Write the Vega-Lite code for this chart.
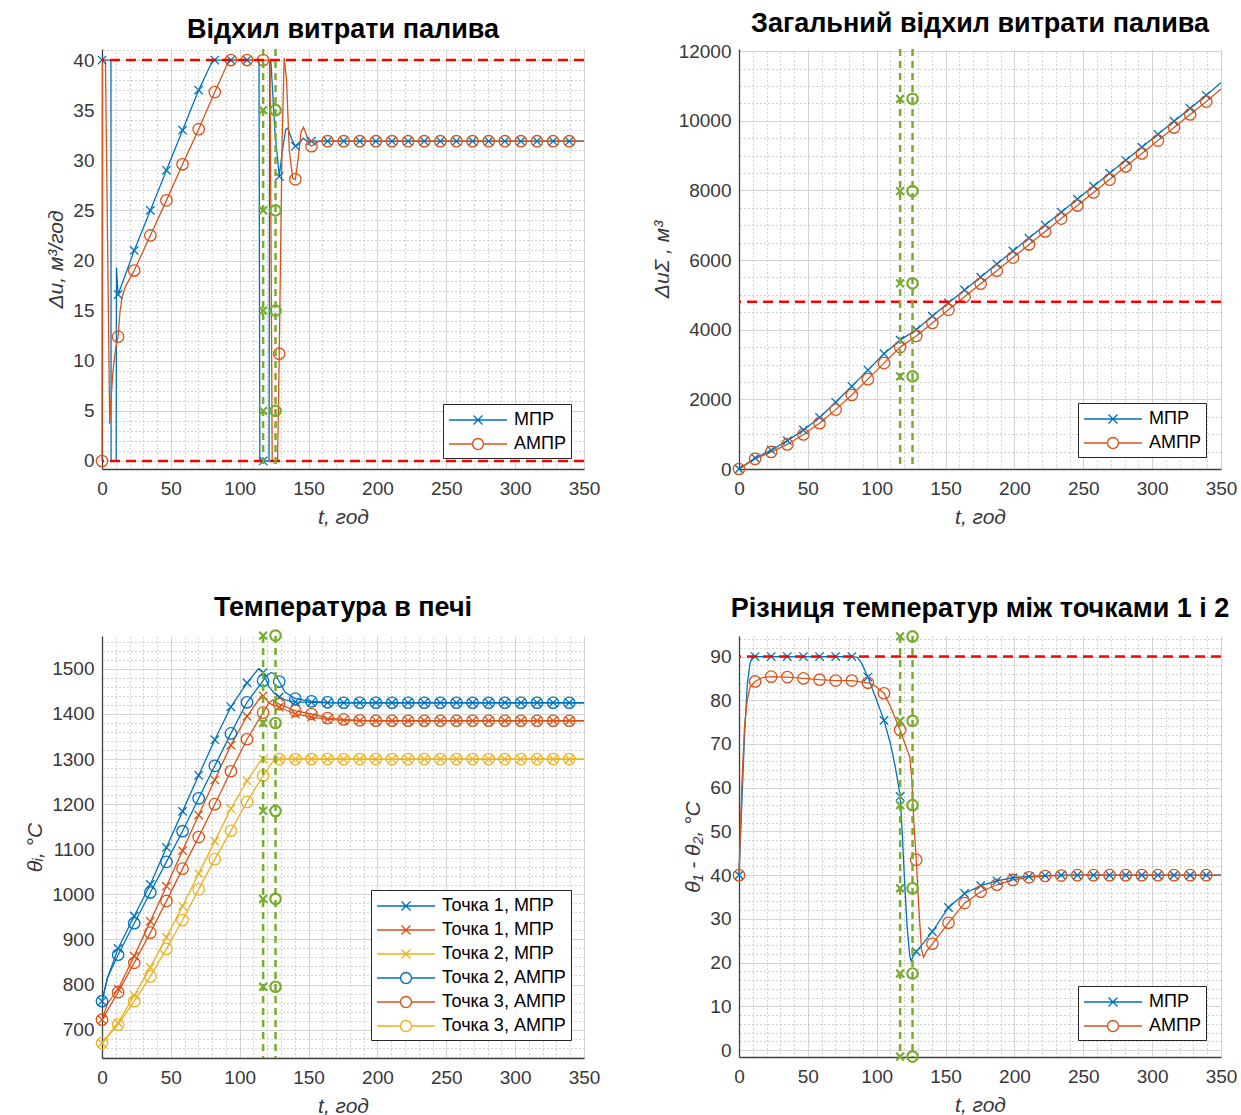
{
"$schema":"https://vega.github.io/schema/vega-lite/v6.json",
"padding":{"left":24,"top":10,"right":2,"bottom":2},
"resolve":{"scale":{"color":"independent"},"legend":{"color":"independent"}},
"config":{
 "view":{"stroke":null},
 "font":"Liberation Sans",
 "title":{"font":"Liberation Sans","fontSize":27,"fontWeight":"bold","color":"#000000","anchor":"middle","offset":4},
 "axis":{"labelFont":"Liberation Sans","labelFontSize":19,"labelColor":"#383838","titleFont":"Liberation Sans","titleFontSize":21,"titleFontStyle":"italic","titleFontWeight":"normal","titleColor":"#383838","domainColor":"#404040","domainWidth":1.3,"ticks":false,"gridColor":"#d4d4d4","gridWidth":1,"labelPadding":8},
 "axisX":{"labelPadding":10,"titlePadding":8},
 "axisY":{"titlePadding":6},
 "legend":{"labelFont":"Liberation Sans","labelFontSize":18,"labelColor":"#000000"}
},
"datasets":{
"p1":[
{"t":0,"v":40,"s":"МПР","m":1},{"t":6.5,"v":40,"s":"МПР"},{"t":6.6,"v":0,"s":"МПР"},{"t":10.3,"v":0,"s":"МПР"},{"t":10.5,"v":19.3,"s":"МПР"},{"t":11.7,"v":16.6,"s":"МПР","m":1},{"t":23.4,"v":21,"s":"МПР","m":1},{"t":35.1,"v":25,"s":"МПР","m":1},{"t":46.8,"v":29,"s":"МПР","m":1},{"t":58.5,"v":33,"s":"МПР","m":1},{"t":70.2,"v":37,"s":"МПР","m":1},{"t":80.5,"v":40,"s":"МПР"},{"t":81.9,"v":40,"s":"МПР","m":1},{"t":93.6,"v":40,"s":"МПР","m":1},{"t":105.3,"v":40,"s":"МПР","m":1},{"t":114,"v":40,"s":"МПР"},{"t":114.6,"v":0,"s":"МПР"},{"t":117,"v":0,"s":"МПР","m":1},{"t":121.3,"v":0,"s":"МПР"},{"t":121.8,"v":40,"s":"МПР"},{"t":122.6,"v":40,"s":"МПР"},{"t":125.5,"v":33,"s":"МПР"},{"t":128.7,"v":28.4,"s":"МПР","m":1},{"t":131,"v":31,"s":"МПР"},{"t":133.5,"v":33.1,"s":"МПР"},{"t":135,"v":33.2,"s":"МПР"},{"t":137.5,"v":32.2,"s":"МПР"},{"t":140.4,"v":31.4,"s":"МПР","m":1},{"t":143,"v":31.6,"s":"МПР"},{"t":146,"v":32.2,"s":"МПР"},{"t":149,"v":31.9,"s":"МПР"},{"t":152.1,"v":31.9,"s":"МПР","m":1},
{"t":163.8,"v":31.9,"s":"МПР","m":1},{"t":175.5,"v":31.9,"s":"МПР","m":1},{"t":187.2,"v":31.9,"s":"МПР","m":1},{"t":198.9,"v":31.9,"s":"МПР","m":1},{"t":210.6,"v":31.9,"s":"МПР","m":1},{"t":222.3,"v":31.9,"s":"МПР","m":1},{"t":234,"v":31.9,"s":"МПР","m":1},{"t":245.7,"v":31.9,"s":"МПР","m":1},{"t":257.4,"v":31.9,"s":"МПР","m":1},{"t":269.1,"v":31.9,"s":"МПР","m":1},{"t":280.8,"v":31.9,"s":"МПР","m":1},{"t":292.5,"v":31.9,"s":"МПР","m":1},{"t":304.2,"v":31.9,"s":"МПР","m":1},{"t":315.9,"v":31.9,"s":"МПР","m":1},{"t":327.6,"v":31.9,"s":"МПР","m":1},{"t":339.3,"v":31.9,"s":"МПР","m":1},{"t":350,"v":31.9,"s":"МПР"},
{"t":0,"v":0,"s":"АМПР","m":1},{"t":0.3,"v":40,"s":"АМПР"},{"t":2.5,"v":40,"s":"АМПР"},{"t":5.6,"v":3.7,"s":"АМПР"},{"t":6.5,"v":6,"s":"АМПР"},{"t":8,"v":9,"s":"АМПР"},{"t":10,"v":11.3,"s":"АМПР"},{"t":11.7,"v":12.4,"s":"АМПР","m":1},{"t":13,"v":14.8,"s":"АМПР"},{"t":14.5,"v":16.3,"s":"АМПР"},{"t":17,"v":17.4,"s":"АМПР"},{"t":23.4,"v":19,"s":"АМПР","m":1},{"t":35.1,"v":22.5,"s":"АМПР","m":1},{"t":46.8,"v":26,"s":"АМПР","m":1},{"t":58.5,"v":29.6,"s":"АМПР","m":1},{"t":70.2,"v":33.1,"s":"АМПР","m":1},{"t":81.9,"v":36.8,"s":"АМПР","m":1},{"t":91,"v":39.6,"s":"АМПР"},{"t":93.6,"v":40,"s":"АМПР","m":1},{"t":105.3,"v":40,"s":"АМПР","m":1},{"t":117,"v":40,"s":"АМПР","m":1},{"t":122,"v":40,"s":"АМПР"},{"t":123.6,"v":0,"s":"АМПР"},{"t":127.5,"v":0,"s":"АМПР"},{"t":128.7,"v":10.7,"s":"АМПР","m":1},{"t":130.8,"v":32,"s":"АМПР"},{"t":132.3,"v":40.2,"s":"АМПР"},{"t":134,"v":38,"s":"АМПР"},{"t":136,"v":31,"s":"АМПР"},{"t":138.5,"v":28.2,"s":"АМПР"},{"t":140.4,"v":28.1,"s":"АМПР","m":1},{"t":142.5,"v":30.2,"s":"АМПР"},{"t":144.5,"v":32.8,"s":"АМПР"},{"t":146.3,"v":33.3,"s":"АМПР"},{"t":148.3,"v":32.6,"s":"АМПР"},{"t":150.5,"v":31.6,"s":"АМПР"},{"t":152.1,"v":31.4,"s":"АМПР","m":1},{"t":155,"v":31.7,"s":"АМПР"},{"t":158,"v":31.9,"s":"АМПР"},
{"t":163.8,"v":31.9,"s":"АМПР","m":1},{"t":175.5,"v":31.9,"s":"АМПР","m":1},{"t":187.2,"v":31.9,"s":"АМПР","m":1},{"t":198.9,"v":31.9,"s":"АМПР","m":1},{"t":210.6,"v":31.9,"s":"АМПР","m":1},{"t":222.3,"v":31.9,"s":"АМПР","m":1},{"t":234,"v":31.9,"s":"АМПР","m":1},{"t":245.7,"v":31.9,"s":"АМПР","m":1},{"t":257.4,"v":31.9,"s":"АМПР","m":1},{"t":269.1,"v":31.9,"s":"АМПР","m":1},{"t":280.8,"v":31.9,"s":"АМПР","m":1},{"t":292.5,"v":31.9,"s":"АМПР","m":1},{"t":304.2,"v":31.9,"s":"АМПР","m":1},{"t":315.9,"v":31.9,"s":"АМПР","m":1},{"t":327.6,"v":31.9,"s":"АМПР","m":1},{"t":339.3,"v":31.9,"s":"АМПР","m":1},{"t":350,"v":31.9,"s":"АМПР"}
],
"p2":[
{"t":0,"v":0,"s":"МПР","m":1},{"t":11.7,"v":320,"s":"МПР","m":1},{"t":23.4,"v":540,"s":"МПР","m":1},{"t":35.1,"v":815,"s":"МПР","m":1},{"t":46.8,"v":1120,"s":"МПР","m":1},{"t":58.5,"v":1480,"s":"МПР","m":1},{"t":70.2,"v":1915,"s":"МПР","m":1},{"t":81.9,"v":2375,"s":"МПР","m":1},{"t":93.6,"v":2840,"s":"МПР","m":1},{"t":105.3,"v":3310,"s":"МПР","m":1},{"t":117,"v":3700,"s":"МПР","m":1},{"t":128.7,"v":4000,"s":"МПР","m":1},{"t":140.4,"v":4390,"s":"МПР","m":1},{"t":152.1,"v":4770,"s":"МПР","m":1},{"t":163.8,"v":5140,"s":"МПР","m":1},{"t":175.5,"v":5510,"s":"МПР","m":1},{"t":187.2,"v":5885,"s":"МПР","m":1},{"t":198.9,"v":6260,"s":"МПР","m":1},{"t":210.6,"v":6630,"s":"МПР","m":1},{"t":222.3,"v":7005,"s":"МПР","m":1},{"t":234,"v":7375,"s":"МПР","m":1},{"t":245.7,"v":7750,"s":"МПР","m":1},{"t":257.4,"v":8120,"s":"МПР","m":1},{"t":269.1,"v":8495,"s":"МПР","m":1},{"t":280.8,"v":8865,"s":"МПР","m":1},{"t":292.5,"v":9240,"s":"МПР","m":1},{"t":304.2,"v":9610,"s":"МПР","m":1},{"t":315.9,"v":9985,"s":"МПР","m":1},{"t":327.6,"v":10355,"s":"МПР","m":1},{"t":339.3,"v":10730,"s":"МПР","m":1},{"t":350,"v":11090,"s":"МПР"},
{"t":0,"v":0,"s":"АМПР","m":1},{"t":11.7,"v":290,"s":"АМПР","m":1},{"t":23.4,"v":490,"s":"АМПР","m":1},{"t":35.1,"v":705,"s":"АМПР","m":1},{"t":46.8,"v":990,"s":"АМПР","m":1},{"t":58.5,"v":1315,"s":"АМПР","m":1},{"t":70.2,"v":1705,"s":"АМПР","m":1},{"t":81.9,"v":2125,"s":"АМПР","m":1},{"t":93.6,"v":2580,"s":"АМПР","m":1},{"t":105.3,"v":3040,"s":"АМПР","m":1},{"t":117,"v":3500,"s":"АМПР","m":1},{"t":128.7,"v":3820,"s":"АМПР","m":1},{"t":140.4,"v":4195,"s":"АМПР","m":1},{"t":152.1,"v":4570,"s":"АМПР","m":1},{"t":163.8,"v":4945,"s":"АМПР","m":1},{"t":175.5,"v":5320,"s":"АМПР","m":1},{"t":187.2,"v":5695,"s":"АМПР","m":1},{"t":198.9,"v":6070,"s":"АМПР","m":1},{"t":210.6,"v":6445,"s":"АМПР","m":1},{"t":222.3,"v":6820,"s":"АМПР","m":1},{"t":234,"v":7190,"s":"АМПР","m":1},{"t":245.7,"v":7565,"s":"АМПР","m":1},{"t":257.4,"v":7940,"s":"АМПР","m":1},{"t":269.1,"v":8310,"s":"АМПР","m":1},{"t":280.8,"v":8685,"s":"АМПР","m":1},{"t":292.5,"v":9060,"s":"АМПР","m":1},{"t":304.2,"v":9430,"s":"АМПР","m":1},{"t":315.9,"v":9805,"s":"АМПР","m":1},{"t":327.6,"v":10180,"s":"АМПР","m":1},{"t":339.3,"v":10550,"s":"АМПР","m":1},{"t":350,"v":10910,"s":"АМПР"}
],
"p3":[
{"t":0,"v":763,"s":"Точка 1, МПР","m":1},{"t":4,"v":815,"s":"Точка 1, МПР"},{"t":11.7,"v":880,"s":"Точка 1, МПР","m":1},{"t":23.4,"v":952,"s":"Точка 1, МПР","m":1},{"t":35.1,"v":1022,"s":"Точка 1, МПР","m":1},{"t":46.8,"v":1104,"s":"Точка 1, МПР","m":1},{"t":58.5,"v":1184,"s":"Точка 1, МПР","m":1},{"t":70.2,"v":1264,"s":"Точка 1, МПР","m":1},{"t":81.9,"v":1343,"s":"Точка 1, МПР","m":1},{"t":93.6,"v":1416,"s":"Точка 1, МПР","m":1},{"t":105.3,"v":1469,"s":"Точка 1, МПР","m":1},{"t":113.5,"v":1500,"s":"Точка 1, МПР"},{"t":117,"v":1492,"s":"Точка 1, МПР","m":1},{"t":121,"v":1462,"s":"Точка 1, МПР"},{"t":125,"v":1446,"s":"Точка 1, МПР"},{"t":128.7,"v":1438,"s":"Точка 1, МПР","m":1},{"t":134,"v":1430,"s":"Точка 1, МПР"},{"t":140.4,"v":1427,"s":"Точка 1, МПР","m":1},{"t":152.1,"v":1426,"s":"Точка 1, МПР","m":1},{"t":163.8,"v":1425,"s":"Точка 1, МПР","m":1},{"t":175.5,"v":1425,"s":"Точка 1, МПР","m":1},{"t":187.2,"v":1425,"s":"Точка 1, МПР","m":1},{"t":198.9,"v":1425,"s":"Точка 1, МПР","m":1},{"t":210.6,"v":1425,"s":"Точка 1, МПР","m":1},{"t":222.3,"v":1425,"s":"Точка 1, МПР","m":1},{"t":234,"v":1425,"s":"Точка 1, МПР","m":1},{"t":245.7,"v":1425,"s":"Точка 1, МПР","m":1},{"t":257.4,"v":1425,"s":"Точка 1, МПР","m":1},{"t":269.1,"v":1425,"s":"Точка 1, МПР","m":1},{"t":280.8,"v":1425,"s":"Точка 1, МПР","m":1},{"t":292.5,"v":1425,"s":"Точка 1, МПР","m":1},{"t":304.2,"v":1425,"s":"Точка 1, МПР","m":1},{"t":315.9,"v":1425,"s":"Точка 1, МПР","m":1},{"t":327.6,"v":1425,"s":"Точка 1, МПР","m":1},{"t":339.3,"v":1425,"s":"Точка 1, МПР","m":1},{"t":350,"v":1425,"s":"Точка 1, МПР"},
{"t":0,"v":722,"s":"Точка 1, МПР ","m":1},{"t":4,"v":758,"s":"Точка 1, МПР "},{"t":11.7,"v":790,"s":"Точка 1, МПР ","m":1},{"t":23.4,"v":863,"s":"Точка 1, МПР ","m":1},{"t":35.1,"v":940,"s":"Точка 1, МПР ","m":1},{"t":46.8,"v":1018,"s":"Точка 1, МПР ","m":1},{"t":58.5,"v":1097,"s":"Точка 1, МПР ","m":1},{"t":70.2,"v":1176,"s":"Точка 1, МПР ","m":1},{"t":81.9,"v":1254,"s":"Точка 1, МПР ","m":1},{"t":93.6,"v":1331,"s":"Точка 1, МПР ","m":1},{"t":105.3,"v":1395,"s":"Точка 1, МПР ","m":1},{"t":116,"v":1441,"s":"Точка 1, МПР "},{"t":117,"v":1440,"s":"Точка 1, МПР ","m":1},{"t":122,"v":1423,"s":"Точка 1, МПР "},{"t":128.7,"v":1415,"s":"Точка 1, МПР ","m":1},{"t":140.4,"v":1400,"s":"Точка 1, МПР ","m":1},{"t":152.1,"v":1393,"s":"Точка 1, МПР ","m":1},{"t":163.8,"v":1388,"s":"Точка 1, МПР ","m":1},{"t":175.5,"v":1386,"s":"Точка 1, МПР ","m":1},{"t":187.2,"v":1385,"s":"Точка 1, МПР ","m":1},{"t":198.9,"v":1385,"s":"Точка 1, МПР ","m":1},{"t":210.6,"v":1385,"s":"Точка 1, МПР ","m":1},{"t":222.3,"v":1385,"s":"Точка 1, МПР ","m":1},{"t":234,"v":1385,"s":"Точка 1, МПР ","m":1},{"t":245.7,"v":1385,"s":"Точка 1, МПР ","m":1},{"t":257.4,"v":1385,"s":"Точка 1, МПР ","m":1},{"t":269.1,"v":1385,"s":"Точка 1, МПР ","m":1},{"t":280.8,"v":1385,"s":"Точка 1, МПР ","m":1},{"t":292.5,"v":1385,"s":"Точка 1, МПР ","m":1},{"t":304.2,"v":1385,"s":"Точка 1, МПР ","m":1},{"t":315.9,"v":1385,"s":"Точка 1, МПР ","m":1},{"t":327.6,"v":1385,"s":"Точка 1, МПР ","m":1},{"t":339.3,"v":1385,"s":"Точка 1, МПР ","m":1},{"t":350,"v":1385,"s":"Точка 1, МПР "},
{"t":0,"v":670,"s":"Точка 2, МПР","m":1},{"t":11.7,"v":715,"s":"Точка 2, МПР","m":1},{"t":23.4,"v":776,"s":"Точка 2, МПР","m":1},{"t":35.1,"v":838,"s":"Точка 2, МПР","m":1},{"t":46.8,"v":905,"s":"Точка 2, МПР","m":1},{"t":58.5,"v":974,"s":"Точка 2, МПР","m":1},{"t":70.2,"v":1046,"s":"Точка 2, МПР","m":1},{"t":81.9,"v":1118,"s":"Точка 2, МПР","m":1},{"t":93.6,"v":1190,"s":"Точка 2, МПР","m":1},{"t":105.3,"v":1252,"s":"Точка 2, МПР","m":1},{"t":116,"v":1300,"s":"Точка 2, МПР"},{"t":117,"v":1300,"s":"Точка 2, МПР","m":1},{"t":128.7,"v":1300,"s":"Точка 2, МПР","m":1},{"t":140.4,"v":1300,"s":"Точка 2, МПР","m":1},{"t":152.1,"v":1300,"s":"Точка 2, МПР","m":1},{"t":163.8,"v":1300,"s":"Точка 2, МПР","m":1},{"t":175.5,"v":1300,"s":"Точка 2, МПР","m":1},{"t":187.2,"v":1300,"s":"Точка 2, МПР","m":1},{"t":198.9,"v":1300,"s":"Точка 2, МПР","m":1},{"t":210.6,"v":1300,"s":"Точка 2, МПР","m":1},{"t":222.3,"v":1300,"s":"Точка 2, МПР","m":1},{"t":234,"v":1300,"s":"Точка 2, МПР","m":1},{"t":245.7,"v":1300,"s":"Точка 2, МПР","m":1},{"t":257.4,"v":1300,"s":"Точка 2, МПР","m":1},{"t":269.1,"v":1300,"s":"Точка 2, МПР","m":1},{"t":280.8,"v":1300,"s":"Точка 2, МПР","m":1},{"t":292.5,"v":1300,"s":"Точка 2, МПР","m":1},{"t":304.2,"v":1300,"s":"Точка 2, МПР","m":1},{"t":315.9,"v":1300,"s":"Точка 2, МПР","m":1},{"t":327.6,"v":1300,"s":"Точка 2, МПР","m":1},{"t":339.3,"v":1300,"s":"Точка 2, МПР","m":1},{"t":350,"v":1300,"s":"Точка 2, МПР"},
{"t":0,"v":763,"s":"Точка 2, АМПР","m":1},{"t":4,"v":815,"s":"Точка 2, АМПР"},{"t":11.7,"v":866,"s":"Точка 2, АМПР","m":1},{"t":23.4,"v":936,"s":"Точка 2, АМПР","m":1},{"t":35.1,"v":1004,"s":"Точка 2, АМПР","m":1},{"t":46.8,"v":1072,"s":"Точка 2, АМПР","m":1},{"t":58.5,"v":1140,"s":"Точка 2, АМПР","m":1},{"t":70.2,"v":1213,"s":"Точка 2, АМПР","m":1},{"t":81.9,"v":1285,"s":"Точка 2, АМПР","m":1},{"t":93.6,"v":1357,"s":"Точка 2, АМПР","m":1},{"t":105.3,"v":1426,"s":"Точка 2, АМПР","m":1},{"t":117,"v":1474,"s":"Точка 2, АМПР","m":1},{"t":120,"v":1486,"s":"Точка 2, АМПР"},{"t":123,"v":1492,"s":"Точка 2, АМПР"},{"t":126,"v":1487,"s":"Точка 2, АМПР"},{"t":128.7,"v":1472,"s":"Точка 2, АМПР","m":1},{"t":133,"v":1448,"s":"Точка 2, АМПР"},{"t":140.4,"v":1434,"s":"Точка 2, АМПР","m":1},{"t":152.1,"v":1428,"s":"Точка 2, АМПР","m":1},{"t":163.8,"v":1426,"s":"Точка 2, АМПР","m":1},{"t":175.5,"v":1425,"s":"Точка 2, АМПР","m":1},{"t":187.2,"v":1425,"s":"Точка 2, АМПР","m":1},{"t":198.9,"v":1425,"s":"Точка 2, АМПР","m":1},{"t":210.6,"v":1425,"s":"Точка 2, АМПР","m":1},{"t":222.3,"v":1425,"s":"Точка 2, АМПР","m":1},{"t":234,"v":1425,"s":"Точка 2, АМПР","m":1},{"t":245.7,"v":1425,"s":"Точка 2, АМПР","m":1},{"t":257.4,"v":1425,"s":"Точка 2, АМПР","m":1},{"t":269.1,"v":1425,"s":"Точка 2, АМПР","m":1},{"t":280.8,"v":1425,"s":"Точка 2, АМПР","m":1},{"t":292.5,"v":1425,"s":"Точка 2, АМПР","m":1},{"t":304.2,"v":1425,"s":"Точка 2, АМПР","m":1},{"t":315.9,"v":1425,"s":"Точка 2, АМПР","m":1},{"t":327.6,"v":1425,"s":"Точка 2, АМПР","m":1},{"t":339.3,"v":1425,"s":"Точка 2, АМПР","m":1},{"t":350,"v":1425,"s":"Точка 2, АМПР"},
{"t":0,"v":722,"s":"Точка 3, АМПР","m":1},{"t":11.7,"v":783,"s":"Точка 3, АМПР","m":1},{"t":23.4,"v":848,"s":"Точка 3, АМПР","m":1},{"t":35.1,"v":915,"s":"Точка 3, АМПР","m":1},{"t":46.8,"v":985,"s":"Точка 3, АМПР","m":1},{"t":58.5,"v":1057,"s":"Точка 3, АМПР","m":1},{"t":70.2,"v":1127,"s":"Точка 3, АМПР","m":1},{"t":81.9,"v":1200,"s":"Точка 3, АМПР","m":1},{"t":93.6,"v":1273,"s":"Точка 3, АМПР","m":1},{"t":105.3,"v":1344,"s":"Точка 3, АМПР","m":1},{"t":117,"v":1403,"s":"Точка 3, АМПР","m":1},{"t":121,"v":1424,"s":"Точка 3, АМПР"},{"t":124,"v":1431,"s":"Точка 3, АМПР"},{"t":128.7,"v":1422,"s":"Точка 3, АМПР","m":1},{"t":140.4,"v":1407,"s":"Точка 3, АМПР","m":1},{"t":152.1,"v":1400,"s":"Точка 3, АМПР","m":1},{"t":163.8,"v":1391,"s":"Точка 3, АМПР","m":1},{"t":175.5,"v":1388,"s":"Точка 3, АМПР","m":1},{"t":187.2,"v":1386,"s":"Точка 3, АМПР","m":1},{"t":198.9,"v":1385,"s":"Точка 3, АМПР","m":1},{"t":210.6,"v":1385,"s":"Точка 3, АМПР","m":1},{"t":222.3,"v":1385,"s":"Точка 3, АМПР","m":1},{"t":234,"v":1385,"s":"Точка 3, АМПР","m":1},{"t":245.7,"v":1385,"s":"Точка 3, АМПР","m":1},{"t":257.4,"v":1385,"s":"Точка 3, АМПР","m":1},{"t":269.1,"v":1385,"s":"Точка 3, АМПР","m":1},{"t":280.8,"v":1385,"s":"Точка 3, АМПР","m":1},{"t":292.5,"v":1385,"s":"Точка 3, АМПР","m":1},{"t":304.2,"v":1385,"s":"Точка 3, АМПР","m":1},{"t":315.9,"v":1385,"s":"Точка 3, АМПР","m":1},{"t":327.6,"v":1385,"s":"Точка 3, АМПР","m":1},{"t":339.3,"v":1385,"s":"Точка 3, АМПР","m":1},{"t":350,"v":1385,"s":"Точка 3, АМПР"},
{"t":0,"v":670,"s":"Точка 3, АМПР ","m":1},{"t":11.7,"v":711,"s":"Точка 3, АМПР ","m":1},{"t":23.4,"v":763,"s":"Точка 3, АМПР ","m":1},{"t":35.1,"v":818,"s":"Точка 3, АМПР ","m":1},{"t":46.8,"v":879,"s":"Точка 3, АМПР ","m":1},{"t":58.5,"v":943,"s":"Точка 3, АМПР ","m":1},{"t":70.2,"v":1011,"s":"Точка 3, АМПР ","m":1},{"t":81.9,"v":1078,"s":"Точка 3, АМПР ","m":1},{"t":93.6,"v":1141,"s":"Точка 3, АМПР ","m":1},{"t":105.3,"v":1205,"s":"Точка 3, АМПР ","m":1},{"t":117,"v":1263,"s":"Точка 3, АМПР ","m":1},{"t":125,"v":1299,"s":"Точка 3, АМПР "},{"t":128.7,"v":1300,"s":"Точка 3, АМПР ","m":1},{"t":140.4,"v":1300,"s":"Точка 3, АМПР ","m":1},{"t":152.1,"v":1300,"s":"Точка 3, АМПР ","m":1},{"t":163.8,"v":1300,"s":"Точка 3, АМПР ","m":1},{"t":175.5,"v":1300,"s":"Точка 3, АМПР ","m":1},{"t":187.2,"v":1300,"s":"Точка 3, АМПР ","m":1},{"t":198.9,"v":1300,"s":"Точка 3, АМПР ","m":1},{"t":210.6,"v":1300,"s":"Точка 3, АМПР ","m":1},{"t":222.3,"v":1300,"s":"Точка 3, АМПР ","m":1},{"t":234,"v":1300,"s":"Точка 3, АМПР ","m":1},{"t":245.7,"v":1300,"s":"Точка 3, АМПР ","m":1},{"t":257.4,"v":1300,"s":"Точка 3, АМПР ","m":1},{"t":269.1,"v":1300,"s":"Точка 3, АМПР ","m":1},{"t":280.8,"v":1300,"s":"Точка 3, АМПР ","m":1},{"t":292.5,"v":1300,"s":"Точка 3, АМПР ","m":1},{"t":304.2,"v":1300,"s":"Точка 3, АМПР ","m":1},{"t":315.9,"v":1300,"s":"Точка 3, АМПР ","m":1},{"t":327.6,"v":1300,"s":"Точка 3, АМПР ","m":1},{"t":339.3,"v":1300,"s":"Точка 3, АМПР ","m":1},{"t":350,"v":1300,"s":"Точка 3, АМПР "}
],
"p4":[
{"t":0,"v":40,"s":"МПР","m":1},{"t":2,"v":56,"s":"МПР"},{"t":4,"v":72,"s":"МПР"},{"t":6,"v":83.5,"s":"МПР"},{"t":8,"v":88.5,"s":"МПР"},{"t":10,"v":90,"s":"МПР"},{"t":11.7,"v":90,"s":"МПР","m":1},{"t":23.4,"v":90,"s":"МПР","m":1},{"t":35.1,"v":90,"s":"МПР","m":1},{"t":46.8,"v":90,"s":"МПР","m":1},{"t":58.5,"v":90,"s":"МПР","m":1},{"t":70.2,"v":90,"s":"МПР","m":1},{"t":81.9,"v":90,"s":"МПР","m":1},{"t":86,"v":89.8,"s":"МПР"},{"t":89,"v":88.5,"s":"МПР"},{"t":93.6,"v":85.3,"s":"МПР","m":1},{"t":99,"v":80.8,"s":"МПР"},{"t":105.3,"v":75.4,"s":"МПР","m":1},{"t":110,"v":70,"s":"МПР"},{"t":113,"v":65.5,"s":"МПР"},{"t":115,"v":62,"s":"МПР"},{"t":117,"v":58,"s":"МПР","m":1},{"t":118.5,"v":50,"s":"МПР"},{"t":120,"v":40,"s":"МПР"},{"t":122,"v":28.5,"s":"МПР"},{"t":124,"v":21.5,"s":"МПР"},{"t":125,"v":20.3,"s":"МПР"},{"t":126.5,"v":21.5,"s":"МПР"},{"t":128.7,"v":22.5,"s":"МПР","m":1},{"t":134,"v":24.5,"s":"МПР"},{"t":140.4,"v":27.1,"s":"МПР","m":1},{"t":152.1,"v":32.6,"s":"МПР","m":1},{"t":163.8,"v":35.8,"s":"МПР","m":1},{"t":175.5,"v":37.6,"s":"МПР","m":1},{"t":187.2,"v":38.7,"s":"МПР","m":1},{"t":198.9,"v":39.4,"s":"МПР","m":1},{"t":210.6,"v":39.7,"s":"МПР","m":1},{"t":222.3,"v":39.9,"s":"МПР","m":1},{"t":234,"v":40,"s":"МПР","m":1},{"t":245.7,"v":40,"s":"МПР","m":1},{"t":257.4,"v":40,"s":"МПР","m":1},{"t":269.1,"v":40,"s":"МПР","m":1},{"t":280.8,"v":40,"s":"МПР","m":1},{"t":292.5,"v":40,"s":"МПР","m":1},{"t":304.2,"v":40,"s":"МПР","m":1},{"t":315.9,"v":40,"s":"МПР","m":1},{"t":327.6,"v":40,"s":"МПР","m":1},{"t":339.3,"v":40,"s":"МПР","m":1},{"t":350,"v":40,"s":"МПР"},
{"t":0,"v":40,"s":"АМПР","m":1},{"t":2,"v":60,"s":"АМПР"},{"t":4,"v":74,"s":"АМПР"},{"t":6,"v":80,"s":"АМПР"},{"t":8,"v":83,"s":"АМПР"},{"t":11.7,"v":84.3,"s":"АМПР","m":1},{"t":17,"v":85.2,"s":"АМПР"},{"t":23.4,"v":85.4,"s":"АМПР","m":1},{"t":35.1,"v":85.3,"s":"АМПР","m":1},{"t":46.8,"v":85,"s":"АМПР","m":1},{"t":58.5,"v":84.7,"s":"АМПР","m":1},{"t":70.2,"v":84.5,"s":"АМПР","m":1},{"t":81.9,"v":84.5,"s":"АМПР","m":1},{"t":93.6,"v":84,"s":"АМПР","m":1},{"t":98,"v":83.5,"s":"АМПР"},{"t":105.3,"v":81.6,"s":"АМПР","m":1},{"t":110,"v":78.5,"s":"АМПР"},{"t":114,"v":75.5,"s":"АМПР"},{"t":117,"v":73.2,"s":"АМПР","m":1},{"t":120,"v":70.5,"s":"АМПР"},{"t":124,"v":67,"s":"АМПР"},{"t":125.5,"v":62,"s":"АМПР"},{"t":127,"v":52,"s":"АМПР"},{"t":128.7,"v":43.5,"s":"АМПР","m":1},{"t":130.5,"v":33,"s":"АМПР"},{"t":132.5,"v":23,"s":"АМПР"},{"t":134,"v":21.2,"s":"АМПР"},{"t":136,"v":22.5,"s":"АМПР"},{"t":140.4,"v":24.3,"s":"АМПР","m":1},{"t":152.1,"v":29.1,"s":"АМПР","m":1},{"t":163.8,"v":33.6,"s":"АМПР","m":1},{"t":175.5,"v":36.2,"s":"АМПР","m":1},{"t":187.2,"v":37.8,"s":"АМПР","m":1},{"t":198.9,"v":38.9,"s":"АМПР","m":1},{"t":210.6,"v":39.5,"s":"АМПР","m":1},{"t":222.3,"v":39.8,"s":"АМПР","m":1},{"t":234,"v":39.9,"s":"АМПР","m":1},{"t":245.7,"v":40,"s":"АМПР","m":1},{"t":257.4,"v":40,"s":"АМПР","m":1},{"t":269.1,"v":40,"s":"АМПР","m":1},{"t":280.8,"v":40,"s":"АМПР","m":1},{"t":292.5,"v":40,"s":"АМПР","m":1},{"t":304.2,"v":40,"s":"АМПР","m":1},{"t":315.9,"v":40,"s":"АМПР","m":1},{"t":327.6,"v":40,"s":"АМПР","m":1},{"t":339.3,"v":40,"s":"АМПР","m":1},{"t":350,"v":40,"s":"АМПР"}
],
"g1":[{"t":117,"v":5,"k":"x"},{"t":117,"v":15,"k":"x"},{"t":117,"v":25,"k":"x"},{"t":117,"v":35,"k":"x"},{"t":126,"v":5,"k":"o"},{"t":126,"v":15,"k":"o"},{"t":126,"v":25,"k":"o"},{"t":126,"v":35,"k":"o"}],
"g2":[{"t":117,"v":2660,"k":"x"},{"t":117,"v":5330,"k":"x"},{"t":117,"v":7980,"k":"x"},{"t":117,"v":10630,"k":"x"},{"t":126,"v":2660,"k":"o"},{"t":126,"v":5330,"k":"o"},{"t":126,"v":7980,"k":"o"},{"t":126,"v":10630,"k":"o"}],
"g3":[{"t":117,"v":795,"k":"x"},{"t":117,"v":990,"k":"x"},{"t":117,"v":1185,"k":"x"},{"t":117,"v":1380,"k":"x"},{"t":117,"v":1574,"k":"x"},{"t":126,"v":795,"k":"o"},{"t":126,"v":990,"k":"o"},{"t":126,"v":1185,"k":"o"},{"t":126,"v":1380,"k":"o"},{"t":126,"v":1574,"k":"o"}],
"g4":[{"t":117,"v":-1.5,"k":"x"},{"t":117,"v":17.5,"k":"x"},{"t":117,"v":37,"k":"x"},{"t":117,"v":56,"k":"x"},{"t":117,"v":75.3,"k":"x"},{"t":117,"v":94.6,"k":"x"},{"t":126,"v":-1.5,"k":"o"},{"t":126,"v":17.5,"k":"o"},{"t":126,"v":37,"k":"o"},{"t":126,"v":56,"k":"o"},{"t":126,"v":75.3,"k":"o"},{"t":126,"v":94.6,"k":"o"}],
"gl":[{"tg":117},{"tg":126}]
},
"columns":2,
"spacing":{"row":167,"column":155},
"bounds":"flush",
"concat":[
{"width":482,"height":420,"title":{"text":"Відхил витрати палива"},
 "resolve":{"axis":{"x":"independent","y":"independent"}},
 "layer":[
  {"data":{"values":[{}]},"mark":{"type":"point","opacity":0,"size":0},
   "encoding":{"x":{"datum":0,"type":"quantitative","scale":{"domain":[0,350],"nice":false,"zero":false},"axis":{"orient":"top","values":[10,20,30,40,60,70,80,90,110,120,130,140,160,170,180,190,210,220,230,240,260,270,280,290,310,320,330,340],"grid":true,"gridDash":[1,3],"gridColor":"#a8a8a8","labels":false,"ticks":false,"domain":false,"title":null,"minExtent":0,"maxExtent":0}},
   "y":{"datum":0,"type":"quantitative","scale":{"domain":[-0.8,41.1],"nice":false,"zero":false},"axis":{"orient":"right","values":[1,2,3,4,6,7,8,9,11,12,13,14,16,17,18,19,21,22,23,24,26,27,28,29,31,32,33,34,36,37,38,39,41],"grid":true,"gridDash":[1,3],"gridColor":"#a8a8a8","labels":false,"ticks":false,"domain":false,"title":null,"minExtent":0,"maxExtent":0}}}},
  {"data":{"name":"p1"},"mark":{"type":"line","strokeWidth":1.3},
   "encoding":{"x":{"field":"t","type":"quantitative","scale":{"domain":[0,350],"nice":false,"zero":false},"axis":{"values":[0,50,100,150,200,250,300,350],"title":"t, год","grid":true,"labelFlush":false}},
   "y":{"field":"v","type":"quantitative","scale":{"domain":[-0.8,41.1],"nice":false,"zero":false},"axis":{"values":[0,5,10,15,20,25,30,35,40],"title":"Δu, м³/год","grid":true}},
   "color":{"field":"s","type":"nominal","scale":{"domain":["МПР","АМПР"],"range":["#0072BD","#D95319"]},
    "legend":{"title":null,"orient":"none","legendX":341,"legendY":355,"symbolSize":400,"labelOffset":44,"rowPadding":4,"padding":5,"strokeColor":"#262626","fillColor":"#ffffff","symbolStrokeWidth":1.4,
     "encoding":{"symbols":{"shape":{"value":{"expr":"indexof(datum.value,'АМПР')>=0?'M-1,0L1.35,0M2.45,0L4.8,0M2.45,0L2.408,0.21L2.289,0.389L2.11,0.508L1.9,0.55L1.69,0.508L1.511,0.389L1.392,0.21L1.35,0L1.392,-0.21L1.511,-0.389L1.69,-0.508L1.9,-0.55L2.11,-0.508L2.289,-0.389L2.408,-0.21Z':'M-1,0L4.8,0M1.45,-0.45L2.35,0.45M1.45,0.45L2.35,-0.45'"}},"fill":{"value":"transparent"},"strokeWidth":{"value":1.4}}}}}}},
  {"data":{"name":"p1"},"transform":[{"filter":"datum.m == 1 && indexof(datum.s,'АМПР') < 0"}],"mark":{"type":"point","shape":"M-1,-1L1,1M-1,1L1,-1","filled":false,"size":70,"strokeWidth":1.3,"opacity":1},
   "encoding":{"x":{"field":"t","type":"quantitative","scale":{"domain":[0,350],"nice":false,"zero":false},"axis":null},"y":{"field":"v","type":"quantitative","scale":{"domain":[-0.8,41.1],"nice":false,"zero":false},"axis":null},"color":{"field":"s","type":"nominal","scale":{"domain":["МПР","АМПР"],"range":["#0072BD","#D95319"]},"legend":null}}},
  {"data":{"name":"p1"},"transform":[{"filter":"datum.m == 1 && indexof(datum.s,'АМПР') >= 0"}],"mark":{"type":"point","shape":"circle","filled":false,"size":130,"strokeWidth":1.3,"opacity":1},
   "encoding":{"x":{"field":"t","type":"quantitative","scale":{"domain":[0,350],"nice":false,"zero":false},"axis":null},"y":{"field":"v","type":"quantitative","scale":{"domain":[-0.8,41.1],"nice":false,"zero":false},"axis":null},"color":{"field":"s","type":"nominal","scale":{"domain":["МПР","АМПР"],"range":["#0072BD","#D95319"]},"legend":null}}},
  {"data":{"values":[{"lim":0},{"lim":40}]},"mark":{"type":"rule","color":"#FF0000","strokeWidth":2.5,"strokeDash":[10,6]},
   "encoding":{"y":{"field":"lim","type":"quantitative","scale":{"domain":[-0.8,41.1],"nice":false,"zero":false},"axis":null}}},
  {"data":{"name":"gl"},"mark":{"type":"rule","color":"#77AC30","strokeWidth":2.5,"strokeDash":[7,5]},
   "encoding":{"x":{"field":"tg","type":"quantitative","scale":{"domain":[0,350],"nice":false,"zero":false},"axis":null}}},
  {"data":{"name":"g1"},"transform":[{"filter":"datum.k == 'x'"}],"mark":{"type":"point","shape":"M-1,-1L1,1M-1,1L1,-1","filled":false,"color":"#77AC30","size":60,"strokeWidth":2.2,"opacity":1},
   "encoding":{"x":{"field":"t","type":"quantitative","scale":{"domain":[0,350],"nice":false,"zero":false},"axis":null},"y":{"field":"v","type":"quantitative","scale":{"domain":[-0.8,41.1],"nice":false,"zero":false},"axis":null}}},
  {"data":{"name":"g1"},"transform":[{"filter":"datum.k == 'o'"}],"mark":{"type":"point","shape":"circle","filled":false,"color":"#77AC30","size":110,"strokeWidth":2.2,"opacity":1},
   "encoding":{"x":{"field":"t","type":"quantitative","scale":{"domain":[0,350],"nice":false,"zero":false},"axis":null},"y":{"field":"v","type":"quantitative","scale":{"domain":[-0.8,41.1],"nice":false,"zero":false},"axis":null}}}
 ]},
{"width":482,"height":420,"title":{"text":"Загальний відхил витрати палива"},
 "resolve":{"axis":{"x":"independent","y":"independent"}},
 "layer":[
  {"data":{"values":[{}]},"mark":{"type":"point","opacity":0,"size":0},
   "encoding":{"x":{"datum":0,"type":"quantitative","scale":{"domain":[0,350],"nice":false,"zero":false},"axis":{"orient":"top","values":[10,20,30,40,60,70,80,90,110,120,130,140,160,170,180,190,210,220,230,240,260,270,280,290,310,320,330,340],"grid":true,"gridDash":[1,3],"gridColor":"#a8a8a8","labels":false,"ticks":false,"domain":false,"title":null,"minExtent":0,"maxExtent":0}},
   "y":{"datum":0,"type":"quantitative","scale":{"domain":[0,12060],"nice":false,"zero":false},"axis":{"orient":"right","values":[500,1000,1500,2500,3000,3500,4500,5000,5500,6500,7000,7500,8500,9000,9500,10500,11000,11500],"grid":true,"gridDash":[1,3],"gridColor":"#a8a8a8","labels":false,"ticks":false,"domain":false,"title":null,"minExtent":0,"maxExtent":0}}}},
  {"data":{"name":"p2"},"mark":{"type":"line","strokeWidth":1.3},
   "encoding":{"x":{"field":"t","type":"quantitative","scale":{"domain":[0,350],"nice":false,"zero":false},"axis":{"values":[0,50,100,150,200,250,300,350],"title":"t, год","grid":true,"labelFlush":false}},
   "y":{"field":"v","type":"quantitative","scale":{"domain":[0,12060],"nice":false,"zero":false},"axis":{"values":[0,2000,4000,6000,8000,10000,12000],"format":"d","title":"ΔuΣ , м³","grid":true}},
   "color":{"field":"s","type":"nominal","scale":{"domain":["МПР","АМПР"],"range":["#0072BD","#D95319"]},
    "legend":{"title":null,"orient":"none","legendX":339,"legendY":354,"symbolSize":400,"labelOffset":44,"rowPadding":4,"padding":5,"strokeColor":"#262626","fillColor":"#ffffff","symbolStrokeWidth":1.4,
     "encoding":{"symbols":{"shape":{"value":{"expr":"indexof(datum.value,'АМПР')>=0?'M-1,0L1.35,0M2.45,0L4.8,0M2.45,0L2.408,0.21L2.289,0.389L2.11,0.508L1.9,0.55L1.69,0.508L1.511,0.389L1.392,0.21L1.35,0L1.392,-0.21L1.511,-0.389L1.69,-0.508L1.9,-0.55L2.11,-0.508L2.289,-0.389L2.408,-0.21Z':'M-1,0L4.8,0M1.45,-0.45L2.35,0.45M1.45,0.45L2.35,-0.45'"}},"fill":{"value":"transparent"},"strokeWidth":{"value":1.4}}}}}}},
  {"data":{"name":"p2"},"transform":[{"filter":"datum.m == 1 && indexof(datum.s,'АМПР') < 0"}],"mark":{"type":"point","shape":"M-1,-1L1,1M-1,1L1,-1","filled":false,"size":70,"strokeWidth":1.3,"opacity":1},
   "encoding":{"x":{"field":"t","type":"quantitative","scale":{"domain":[0,350],"nice":false,"zero":false},"axis":null},"y":{"field":"v","type":"quantitative","scale":{"domain":[0,12060],"nice":false,"zero":false},"axis":null},"color":{"field":"s","type":"nominal","scale":{"domain":["МПР","АМПР"],"range":["#0072BD","#D95319"]},"legend":null}}},
  {"data":{"name":"p2"},"transform":[{"filter":"datum.m == 1 && indexof(datum.s,'АМПР') >= 0"}],"mark":{"type":"point","shape":"circle","filled":false,"size":130,"strokeWidth":1.3,"opacity":1},
   "encoding":{"x":{"field":"t","type":"quantitative","scale":{"domain":[0,350],"nice":false,"zero":false},"axis":null},"y":{"field":"v","type":"quantitative","scale":{"domain":[0,12060],"nice":false,"zero":false},"axis":null},"color":{"field":"s","type":"nominal","scale":{"domain":["МПР","АМПР"],"range":["#0072BD","#D95319"]},"legend":null}}},
  {"data":{"values":[{"lim":4800}]},"mark":{"type":"rule","color":"#FF0000","strokeWidth":2.5,"strokeDash":[10,6]},
   "encoding":{"y":{"field":"lim","type":"quantitative","scale":{"domain":[0,12060],"nice":false,"zero":false},"axis":null}}},
  {"data":{"name":"gl"},"mark":{"type":"rule","color":"#77AC30","strokeWidth":2.5,"strokeDash":[7,5]},
   "encoding":{"x":{"field":"tg","type":"quantitative","scale":{"domain":[0,350],"nice":false,"zero":false},"axis":null}}},
  {"data":{"name":"g2"},"transform":[{"filter":"datum.k == 'x'"}],"mark":{"type":"point","shape":"M-1,-1L1,1M-1,1L1,-1","filled":false,"color":"#77AC30","size":60,"strokeWidth":2.2,"opacity":1},
   "encoding":{"x":{"field":"t","type":"quantitative","scale":{"domain":[0,350],"nice":false,"zero":false},"axis":null},"y":{"field":"v","type":"quantitative","scale":{"domain":[0,12060],"nice":false,"zero":false},"axis":null}}},
  {"data":{"name":"g2"},"transform":[{"filter":"datum.k == 'o'"}],"mark":{"type":"point","shape":"circle","filled":false,"color":"#77AC30","size":110,"strokeWidth":2.2,"opacity":1},
   "encoding":{"x":{"field":"t","type":"quantitative","scale":{"domain":[0,350],"nice":false,"zero":false},"axis":null},"y":{"field":"v","type":"quantitative","scale":{"domain":[0,12060],"nice":false,"zero":false},"axis":null}}}
 ]},
{"width":482,"height":422,"title":{"text":"Температура в печі"},
 "resolve":{"axis":{"x":"independent","y":"independent"}},
 "layer":[
  {"data":{"values":[{}]},"mark":{"type":"point","opacity":0,"size":0},
   "encoding":{"x":{"datum":0,"type":"quantitative","scale":{"domain":[0,350],"nice":false,"zero":false},"axis":{"orient":"top","values":[10,20,30,40,60,70,80,90,110,120,130,140,160,170,180,190,210,220,230,240,260,270,280,290,310,320,330,340],"grid":true,"gridDash":[1,3],"gridColor":"#a8a8a8","labels":false,"ticks":false,"domain":false,"title":null,"minExtent":0,"maxExtent":0}},
   "y":{"datum":700,"type":"quantitative","scale":{"domain":[637,1573],"nice":false,"zero":false},"axis":{"orient":"right","values":[640,660,680,720,740,760,780,820,840,860,880,920,940,960,980,1020,1040,1060,1080,1120,1140,1160,1180,1220,1240,1260,1280,1320,1340,1360,1380,1420,1440,1460,1480,1520,1540,1560],"grid":true,"gridDash":[1,3],"gridColor":"#a8a8a8","labels":false,"ticks":false,"domain":false,"title":null,"minExtent":0,"maxExtent":0}}}},
  {"data":{"name":"p3"},"mark":{"type":"line","strokeWidth":1.3},
   "encoding":{"x":{"field":"t","type":"quantitative","scale":{"domain":[0,350],"nice":false,"zero":false},"axis":{"values":[0,50,100,150,200,250,300,350],"title":"t, год","grid":true,"labelFlush":false}},
   "y":{"field":"v","type":"quantitative","scale":{"domain":[637,1573],"nice":false,"zero":false},"axis":{"values":[700,800,900,1000,1100,1200,1300,1400,1500],"format":"d","title":"θᵢ, °C","grid":true}},
   "color":{"field":"s","type":"nominal","scale":{"domain":["Точка 1, МПР","Точка 1, МПР ","Точка 2, МПР","Точка 2, АМПР","Точка 3, АМПР","Точка 3, АМПР "],"range":["#0072BD","#D95319","#EDB120","#0072BD","#D95319","#EDB120"]},
    "legend":{"title":null,"orient":"none","legendX":269,"legendY":254,"symbolSize":400,"labelOffset":44,"rowPadding":4,"padding":5,"strokeColor":"#262626","fillColor":"#ffffff","symbolStrokeWidth":1.4,
     "encoding":{"symbols":{"shape":{"value":{"expr":"indexof(datum.value,'АМПР')>=0?'M-1,0L1.35,0M2.45,0L4.8,0M2.45,0L2.408,0.21L2.289,0.389L2.11,0.508L1.9,0.55L1.69,0.508L1.511,0.389L1.392,0.21L1.35,0L1.392,-0.21L1.511,-0.389L1.69,-0.508L1.9,-0.55L2.11,-0.508L2.289,-0.389L2.408,-0.21Z':'M-1,0L4.8,0M1.45,-0.45L2.35,0.45M1.45,0.45L2.35,-0.45'"}},"fill":{"value":"transparent"},"strokeWidth":{"value":1.4}}}}}}},
  {"data":{"name":"p3"},"transform":[{"filter":"datum.m == 1 && indexof(datum.s,'АМПР') < 0"}],"mark":{"type":"point","shape":"M-1,-1L1,1M-1,1L1,-1","filled":false,"size":70,"strokeWidth":1.3,"opacity":1},
   "encoding":{"x":{"field":"t","type":"quantitative","scale":{"domain":[0,350],"nice":false,"zero":false},"axis":null},"y":{"field":"v","type":"quantitative","scale":{"domain":[637,1573],"nice":false,"zero":false},"axis":null},"color":{"field":"s","type":"nominal","scale":{"domain":["Точка 1, МПР","Точка 1, МПР ","Точка 2, МПР","Точка 2, АМПР","Точка 3, АМПР","Точка 3, АМПР "],"range":["#0072BD","#D95319","#EDB120","#0072BD","#D95319","#EDB120"]},"legend":null}}},
  {"data":{"name":"p3"},"transform":[{"filter":"datum.m == 1 && indexof(datum.s,'АМПР') >= 0"}],"mark":{"type":"point","shape":"circle","filled":false,"size":130,"strokeWidth":1.3,"opacity":1},
   "encoding":{"x":{"field":"t","type":"quantitative","scale":{"domain":[0,350],"nice":false,"zero":false},"axis":null},"y":{"field":"v","type":"quantitative","scale":{"domain":[637,1573],"nice":false,"zero":false},"axis":null},"color":{"field":"s","type":"nominal","scale":{"domain":["Точка 1, МПР","Точка 1, МПР ","Точка 2, МПР","Точка 2, АМПР","Точка 3, АМПР","Точка 3, АМПР "],"range":["#0072BD","#D95319","#EDB120","#0072BD","#D95319","#EDB120"]},"legend":null}}},
  {"data":{"name":"gl"},"mark":{"type":"rule","color":"#77AC30","strokeWidth":2.5,"strokeDash":[7,5]},
   "encoding":{"x":{"field":"tg","type":"quantitative","scale":{"domain":[0,350],"nice":false,"zero":false},"axis":null}}},
  {"data":{"name":"g3"},"transform":[{"filter":"datum.k == 'x'"}],"mark":{"type":"point","shape":"M-1,-1L1,1M-1,1L1,-1","filled":false,"color":"#77AC30","size":60,"strokeWidth":2.2,"opacity":1},
   "encoding":{"x":{"field":"t","type":"quantitative","scale":{"domain":[0,350],"nice":false,"zero":false},"axis":null},"y":{"field":"v","type":"quantitative","scale":{"domain":[637,1573],"nice":false,"zero":false},"axis":null}}},
  {"data":{"name":"g3"},"transform":[{"filter":"datum.k == 'o'"}],"mark":{"type":"point","shape":"circle","filled":false,"color":"#77AC30","size":110,"strokeWidth":2.2,"opacity":1},
   "encoding":{"x":{"field":"t","type":"quantitative","scale":{"domain":[0,350],"nice":false,"zero":false},"axis":null},"y":{"field":"v","type":"quantitative","scale":{"domain":[637,1573],"nice":false,"zero":false},"axis":null}}}
 ]},
{"width":482,"height":421,"title":{"text":"Різниця температур між точками 1 і 2"},
 "resolve":{"axis":{"x":"independent","y":"independent"}},
 "layer":[
  {"data":{"values":[{}]},"mark":{"type":"point","opacity":0,"size":0},
   "encoding":{"x":{"datum":0,"type":"quantitative","scale":{"domain":[0,350],"nice":false,"zero":false},"axis":{"orient":"top","values":[10,20,30,40,60,70,80,90,110,120,130,140,160,170,180,190,210,220,230,240,260,270,280,290,310,320,330,340],"grid":true,"gridDash":[1,3],"gridColor":"#a8a8a8","labels":false,"ticks":false,"domain":false,"title":null,"minExtent":0,"maxExtent":0}},
   "y":{"datum":0,"type":"quantitative","scale":{"domain":[-1.6,94.7],"nice":false,"zero":false},"axis":{"orient":"right","values":[2,4,6,8,12,14,16,18,22,24,26,28,32,34,36,38,42,44,46,48,52,54,56,58,62,64,66,68,72,74,76,78,82,84,86,88,92,94],"grid":true,"gridDash":[1,3],"gridColor":"#a8a8a8","labels":false,"ticks":false,"domain":false,"title":null,"minExtent":0,"maxExtent":0}}}},
  {"data":{"name":"p4"},"mark":{"type":"line","strokeWidth":1.3},
   "encoding":{"x":{"field":"t","type":"quantitative","scale":{"domain":[0,350],"nice":false,"zero":false},"axis":{"values":[0,50,100,150,200,250,300,350],"title":"t, год","grid":true,"labelFlush":false}},
   "y":{"field":"v","type":"quantitative","scale":{"domain":[-1.6,94.7],"nice":false,"zero":false},"axis":{"values":[0,10,20,30,40,50,60,70,80,90],"title":"θ₁ - θ₂, °C","grid":true}},
   "color":{"field":"s","type":"nominal","scale":{"domain":["МПР","АМПР"],"range":["#0072BD","#D95319"]},
    "legend":{"title":null,"orient":"none","legendX":339,"legendY":350,"symbolSize":400,"labelOffset":44,"rowPadding":4,"padding":5,"strokeColor":"#262626","fillColor":"#ffffff","symbolStrokeWidth":1.4,
     "encoding":{"symbols":{"shape":{"value":{"expr":"indexof(datum.value,'АМПР')>=0?'M-1,0L1.35,0M2.45,0L4.8,0M2.45,0L2.408,0.21L2.289,0.389L2.11,0.508L1.9,0.55L1.69,0.508L1.511,0.389L1.392,0.21L1.35,0L1.392,-0.21L1.511,-0.389L1.69,-0.508L1.9,-0.55L2.11,-0.508L2.289,-0.389L2.408,-0.21Z':'M-1,0L4.8,0M1.45,-0.45L2.35,0.45M1.45,0.45L2.35,-0.45'"}},"fill":{"value":"transparent"},"strokeWidth":{"value":1.4}}}}}}},
  {"data":{"name":"p4"},"transform":[{"filter":"datum.m == 1 && indexof(datum.s,'АМПР') < 0"}],"mark":{"type":"point","shape":"M-1,-1L1,1M-1,1L1,-1","filled":false,"size":70,"strokeWidth":1.3,"opacity":1},
   "encoding":{"x":{"field":"t","type":"quantitative","scale":{"domain":[0,350],"nice":false,"zero":false},"axis":null},"y":{"field":"v","type":"quantitative","scale":{"domain":[-1.6,94.7],"nice":false,"zero":false},"axis":null},"color":{"field":"s","type":"nominal","scale":{"domain":["МПР","АМПР"],"range":["#0072BD","#D95319"]},"legend":null}}},
  {"data":{"name":"p4"},"transform":[{"filter":"datum.m == 1 && indexof(datum.s,'АМПР') >= 0"}],"mark":{"type":"point","shape":"circle","filled":false,"size":130,"strokeWidth":1.3,"opacity":1},
   "encoding":{"x":{"field":"t","type":"quantitative","scale":{"domain":[0,350],"nice":false,"zero":false},"axis":null},"y":{"field":"v","type":"quantitative","scale":{"domain":[-1.6,94.7],"nice":false,"zero":false},"axis":null},"color":{"field":"s","type":"nominal","scale":{"domain":["МПР","АМПР"],"range":["#0072BD","#D95319"]},"legend":null}}},
  {"data":{"values":[{"lim":90}]},"mark":{"type":"rule","color":"#FF0000","strokeWidth":2.5,"strokeDash":[10,6]},
   "encoding":{"y":{"field":"lim","type":"quantitative","scale":{"domain":[-1.6,94.7],"nice":false,"zero":false},"axis":null}}},
  {"data":{"name":"gl"},"mark":{"type":"rule","color":"#77AC30","strokeWidth":2.5,"strokeDash":[7,5]},
   "encoding":{"x":{"field":"tg","type":"quantitative","scale":{"domain":[0,350],"nice":false,"zero":false},"axis":null}}},
  {"data":{"name":"g4"},"transform":[{"filter":"datum.k == 'x'"}],"mark":{"type":"point","shape":"M-1,-1L1,1M-1,1L1,-1","filled":false,"color":"#77AC30","size":60,"strokeWidth":2.2,"opacity":1},
   "encoding":{"x":{"field":"t","type":"quantitative","scale":{"domain":[0,350],"nice":false,"zero":false},"axis":null},"y":{"field":"v","type":"quantitative","scale":{"domain":[-1.6,94.7],"nice":false,"zero":false},"axis":null}}},
  {"data":{"name":"g4"},"transform":[{"filter":"datum.k == 'o'"}],"mark":{"type":"point","shape":"circle","filled":false,"color":"#77AC30","size":110,"strokeWidth":2.2,"opacity":1},
   "encoding":{"x":{"field":"t","type":"quantitative","scale":{"domain":[0,350],"nice":false,"zero":false},"axis":null},"y":{"field":"v","type":"quantitative","scale":{"domain":[-1.6,94.7],"nice":false,"zero":false},"axis":null}}}
 ]}
]
}
